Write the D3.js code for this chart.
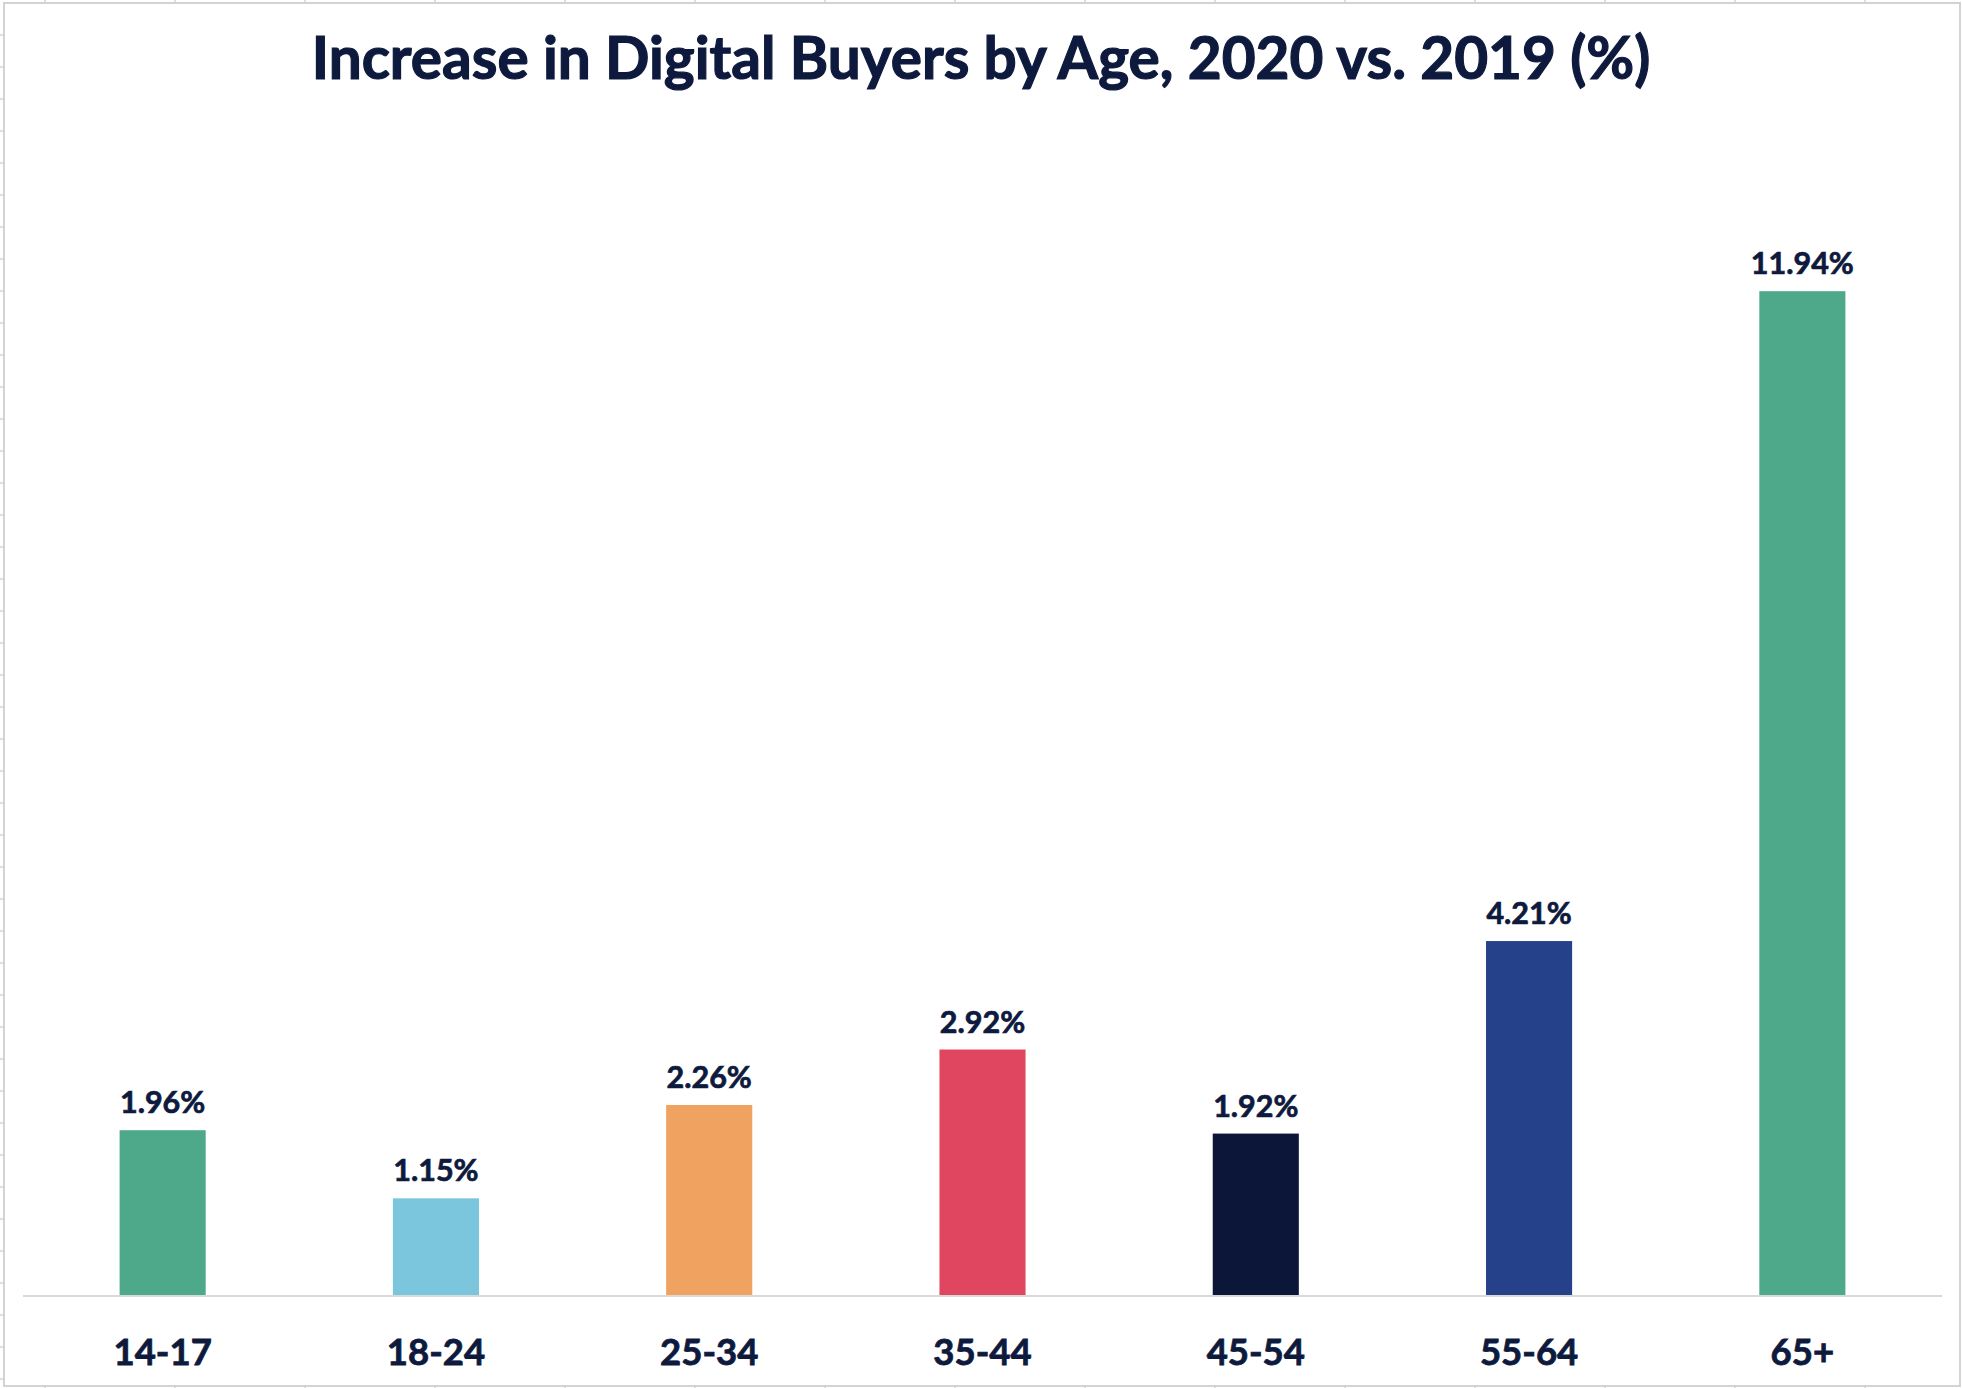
<!DOCTYPE html>
<html>
<head>
<meta charset="utf-8">
<script src="https://cdn.jsdelivr.net/npm/d3@7"></script>
<style>
  body { margin: 0; background: #fff; }
  text { font-family: Lato, "Noto Sans", sans-serif; font-weight: 700; fill: #0e1a3d; stroke: #0e1a3d; }
</style>
</head>
<body>
<div id="chart-area"></div>
<script>

// Data
let ageGroups = ["14-17", "18-24", "25-34", "35-44", "45-54", "55-64", "65+"];
let increase = [1.96, 1.15, 2.26, 2.92, 1.92, 4.21, 11.94];
let barColors = ["#4ea98a", "#7bc5dd", "#f0a261", "#e0465f", "#0c1638", "#24418a", "#4ea98a"];
let chartTitle = "Increase in Digital Buyers by Age, 2020 vs. 2019 (%)";

let W = 1962, H = 1388;

let svg = d3.select("#chart-area").append("svg")
	.attr("width", W)
	.attr("height", H);

// spreadsheet frame + cell marks peeking out
let frame = svg.append("g");
frame.append("rect")
	.attr("x", 4).attr("y", 3)
	.attr("width", W - 6).attr("height", H - 5)
	.attr("fill", "#fff")
	.attr("stroke", "#d3d3d3")
	.attr("stroke-width", 2);
frame.selectAll(".rowtick")
	.data(d3.range(35, H, 32))
	.enter().append("line")
	.attr("x1", 0).attr("x2", 4)
	.attr("y1", d => d).attr("y2", d => d)
	.attr("stroke", "#d3d3d3").attr("stroke-width", 1.5);
frame.selectAll(".coltick")
	.data(d3.range(45, W, 130))
	.enter().append("line")
	.attr("x1", d => d).attr("x2", d => d)
	.attr("y1", 0).attr("y2", 3)
	.attr("stroke", "#d3d3d3").attr("stroke-width", 1.5);
frame.selectAll(".coltickb")
	.data(d3.range(45, W, 130))
	.enter().append("line")
	.attr("x1", d => d).attr("x2", d => d)
	.attr("y1", H - 2).attr("y2", H)
	.attr("stroke", "#d3d3d3").attr("stroke-width", 1.5);

// scales
let x = d3.scaleBand()
	.domain(ageGroups)
	.range([26, 1939])
	.paddingInner(0.685)
	.paddingOuter(0.3425);

let y = d3.scaleLinear()
	.domain([0, 14])
	.range([1295, 118]);

// title
svg.append("text")
	.attr("x", 981)
	.attr("y", 79)
	.attr("text-anchor", "middle")
	.attr("font-size", 58.5)
	.attr("stroke-width", 1.2)
	.text(chartTitle);

// bars
let data = ageGroups.map((g, i) => ({group: g, value: increase[i], color: barColors[i]}));

svg.selectAll(".bar")
	.data(data)
	.enter().append("rect")
	.attr("class", "bar")
	.attr("x", d => x(d.group))
	.attr("width", x.bandwidth())
	.attr("y", d => y(d.value))
	.attr("height", d => y(0) - y(d.value))
	.attr("fill", d => d.color);

// value labels
svg.selectAll(".val")
	.data(data)
	.enter().append("text")
	.attr("class", "val")
	.attr("x", d => x(d.group) + x.bandwidth() / 2)
	.attr("y", d => y(d.value) - 17)
	.attr("text-anchor", "middle")
	.attr("font-size", 30.5)
	.attr("stroke-width", 0.7)
	.text(d => d.value.toFixed(2) + "%");

// x axis
let xAxis = d3.axisBottom(x).tickSize(0).tickPadding(44);
let xAxisGroup = svg.append("g")
	.attr("class", "x-axis")
	.attr("transform", "translate(0," + y(0) + ")")
	.call(xAxis);
xAxisGroup.select(".domain")
	.attr("d", "M-3,1H1916")
	.attr("transform", "translate(26,0)")
	.attr("stroke", "#d9d9d9")
	.attr("stroke-width", 2);
xAxisGroup.selectAll("text")
	.attr("font-size", 36.5)
	.attr("font-family", "Lato, sans-serif")
	.attr("font-weight", 700)
	.attr("fill", "#0e1a3d")
	.attr("stroke", "#0e1a3d")
	.attr("stroke-width", 0.8);

</script>
</body>
</html>
